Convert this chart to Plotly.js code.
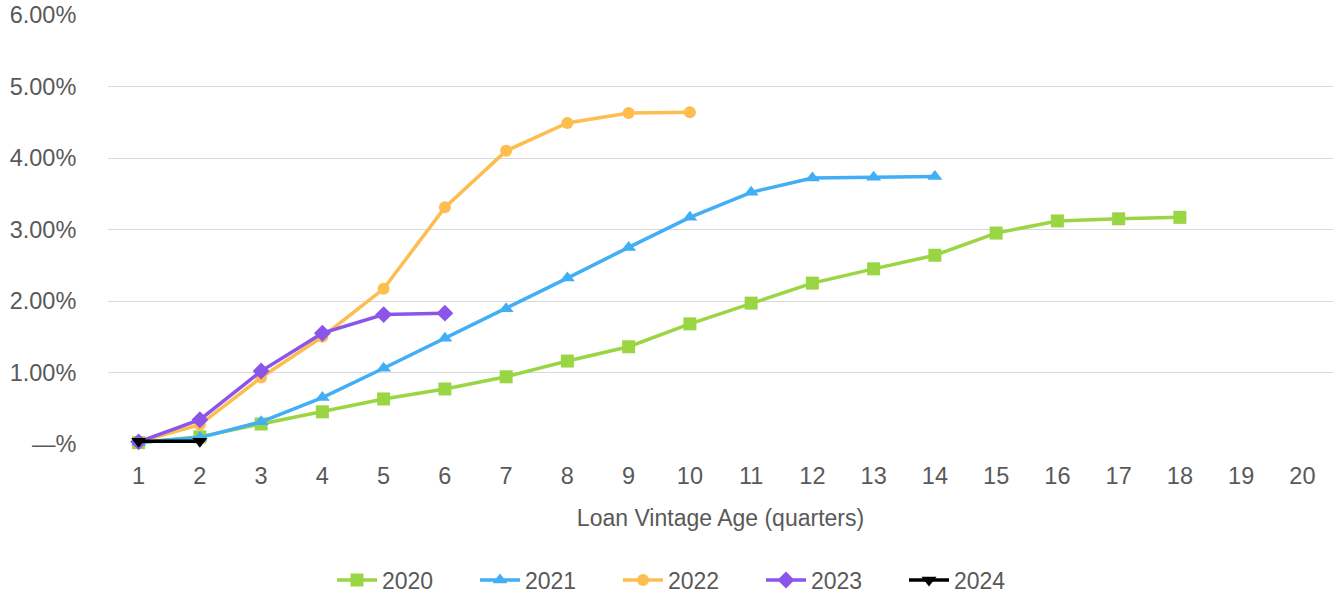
<!DOCTYPE html>
<html><head><meta charset="utf-8">
<script src="https://cdn.plot.ly/plotly-3.0.1.min.js"></script>
<style>html,body{margin:0;padding:0;background:#fff}#chart{width:1335px;height:596px}</style>
</head><body><div id="chart"></div>
<script>
const ages2020 = [1,2,3,4,5,6,7,8,9,10,11,12,13,14,15,16,17,18];
const v2020 = [0.02,0.10,0.28,0.45,0.63,0.77,0.94,1.16,1.36,1.68,1.97,2.25,2.45,2.64,2.95,3.12,3.15,3.17];
const ages2021 = [1,2,3,4,5,6,7,8,9,10,11,12,13,14];
const v2021 = [0.02,0.09,0.31,0.65,1.06,1.48,1.89,2.32,2.75,3.17,3.52,3.72,3.73,3.74];
const ages2022 = [1,2,3,4,5,6,7,8,9,10];
const v2022 = [0.03,0.27,0.93,1.50,2.17,3.31,4.10,4.49,4.63,4.64];
const ages2023 = [1,2,3,4,5,6];
const v2023 = [0.03,0.34,1.02,1.55,1.81,1.83];
const ages2024 = [1,2];
const v2024 = [0.04,0.04];
const yTickVals = [0,1,2,3,4,5,6];
const yTickText = ['—%','1.00%','2.00%','3.00%','4.00%','5.00%','6.00%'];
const xTickVals = [1,2,3,4,5,6,7,8,9,10,11,12,13,14,15,16,17,18,19,20];

const font = {family:'"Liberation Sans", Arial, sans-serif', color:'#595959'};
function tr(name, x, y, color, symbol, size){
  return {type:'scatter', mode:'lines+markers', name, x, y,
    line:{color, width:3.5}, marker:{color, symbol, size},
    cliponaxis:false, hoverinfo:'x+y'};
}
const data = [
  tr('2020', ages2020, v2020, '#9AD543', 'square', 13),
  tr('2021', ages2021, v2021, '#41AEF5', 'triangle-up', 13),
  tr('2022', ages2022, v2022, '#FDBE4F', 'circle', 12),
  tr('2023', ages2023, v2023, '#8C55EA', 'diamond', 13),
  tr('2024', ages2024, v2024, '#000000', 'triangle-down', 13)
];
const layout = {
  width:1335, height:596,
  margin:{l:108, r:2, t:15, b:152},
  paper_bgcolor:'#fff', plot_bgcolor:'#fff',
  font: Object.assign({size:23}, font),
  showlegend:true,
  legend:{orientation:'h', xref:'container', yref:'container', x:332/1335, xanchor:'left', y:1-580/596, yanchor:'middle',
    font:Object.assign({size:23}, font), itemwidth:40, entrywidth:88, entrywidthmode:'pixels', tracegroupgap:0},
  xaxis:{range:[0.5,20.5], tickmode:'array', tickvals:xTickVals, showgrid:false, zeroline:false,
    showline:false, ticks:'outside', ticklen:11, tickcolor:'rgba(0,0,0,0)',
    tickfont:Object.assign({size:23.5}, font),
    title:{text:'Loan Vintage Age (quarters)', font:Object.assign({size:23}, font), standoff:21}},
  yaxis:{range:[0,6], tickmode:'array', tickvals:yTickVals, ticktext:yTickText,
    showgrid:true, gridcolor:'#D9D9D9', gridwidth:1, zeroline:false, showline:false,
    ticks:'outside', ticklen:26, tickcolor:'rgba(0,0,0,0)',
    tickfont:Object.assign({size:23.5}, font)}
};
Plotly.newPlot('chart', data, layout, {displayModeBar:false, staticPlot:true});
</script></body></html>
